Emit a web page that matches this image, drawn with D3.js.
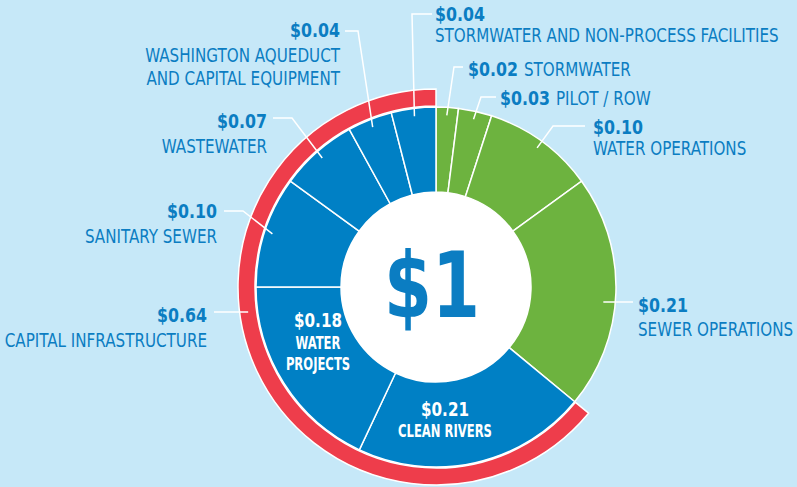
<!DOCTYPE html>
<html>
<head>
<meta charset="utf-8">
<script src="https://cdn.jsdelivr.net/npm/d3@7/dist/d3.min.js"></script>
<style>
  html, body { margin: 0; padding: 0; background: #c6e8f8; }
  svg { display: block; }
  text { font-family: "DejaVu Sans Condensed", "DejaVu Sans", sans-serif; }
</style>
</head>
<body>
<div id="chart"></div>
<script>
var width = 797, height = 487;

// clockwise from 12 o'clock
var names = ["STORMWATER", "PILOT / ROW", "WATER OPERATIONS", "SEWER OPERATIONS",
    "CLEAN RIVERS", "WATER PROJECTS", "SANITARY SEWER", "WASTEWATER",
    "WASHINGTON AQUEDUCT AND CAPITAL EQUIPMENT", "STORMWATER AND NON-PROCESS FACILITIES"];
var values = [0.02, 0.03, 0.10, 0.21, 0.21, 0.18, 0.10, 0.07, 0.04, 0.04];
var groups = ["op", "op", "op", "op", "cap", "cap", "cap", "cap", "cap", "cap"];
var capitalLabel = ["$0.64", "CAPITAL INFRASTRUCTURE"];
var totalLabel = "$1";

var colors = { op: "#6db33f", cap: "#0080c5" };
var red = "#ee3d4b", textBlue = "#0b7dc2";

var cx = 436, cy = 287;
var rIn = 95, rOut = 180, redIn = 181, redOut = 198;

// text styles; the original face is a condensed one, so text is squeezed
// horizontally to the width a reference string has in the picture
var styles = {
    name:     { size: 19, weight: "normal", ref: "STORMWATER AND NON-PROCESS FACILITIES", w: 344 },
    value:    { size: 19, weight: "bold",   ref: "$0.64", w: 50 },
    inside:   { size: 18, weight: "bold",   ref: "CLEAN RIVERS", w: 94 },
    insideV:  { size: 20, weight: "bold",   ref: "$0.18", w: 48 },
    big:      { size: 90, weight: "bold",   ref: "$1", w: 96 }
};

// label layout, one per slice
var layout = [
    { anchor: "start", x: 468, y: 76, inline: true, from: [463, 67], elbow: 454 },
    { anchor: "start", x: 500, y: 105, inline: true, from: [496, 97], elbow: 481 },
    { anchor: "start", x: 593, y: 134, lines: [155], from: [585, 126], elbow: 553 },
    { anchor: "start", x: 638, y: 312, lines: [336], from: [633, 302], flat: 168 },
    { inside: true, x: 445, y: 416, lines: [437] },
    { inside: true, x: 318, y: 327, lines: [349, 370], split: ["WATER", "PROJECTS"] },
    { anchor: "end", x: 217, y: 218, lines: [243], from: [224, 211], elbow: 243 },
    { anchor: "end", x: 267, y: 128, lines: [153], from: [273, 118], elbow: 292 },
    { anchor: "end", x: 340, y: 37, lines: [62, 85], from: [345, 31], elbow: 358,
      split: ["WASHINGTON AQUEDUCT", "AND CAPITAL EQUIPMENT"] },
    { anchor: "start", x: 435, y: 21, lines: [42], from: [432, 14], elbow: 412 }
];

var svg = d3.select("#chart").append("svg")
    .attr("width", width)
    .attr("height", height);

svg.append("rect").attr("width", width).attr("height", height).attr("fill", "#c6e8f8");

// work out squeeze factor for each style
Object.keys(styles).forEach(function(k) {
    var s = styles[k];
    var t = svg.append("text").attr("font-size", s.size).attr("font-weight", s.weight).text(s.ref);
    s.k = Math.min(1, s.w / t.node().getComputedTextLength());
    t.remove();
});

function addText(parent, style, x, y, anchor, fill, str) {
    var s = styles[style];
    var t = parent.append("text")
        .attr("x", 0).attr("y", 0)
        .attr("transform", "translate(" + x + "," + y + ") scale(" + s.k + ",1)")
        .attr("text-anchor", anchor)
        .attr("fill", fill)
        .attr("font-size", s.size)
        .attr("font-weight", s.weight)
        .text(str);
    return t;
}

var pie = d3.pie().sort(null).value(function(d) { return d; });
var slices = pie(values);

var arc = d3.arc().innerRadius(rIn).outerRadius(rOut);
var g = svg.append("g").attr("transform", "translate(" + cx + "," + cy + ")");

// red capital ring
var capSlices = slices.filter(function(d, i) { return groups[i] == "cap"; });
var redArc = d3.arc().innerRadius(redIn).outerRadius(redOut)
    .startAngle(d3.min(capSlices, function(d) { return d.startAngle; }))
    .endAngle(d3.max(capSlices, function(d) { return d.endAngle; }));
g.append("path").attr("d", redArc()).attr("fill", red)
    .attr("stroke", "#fff").attr("stroke-width", 1.5);

g.selectAll(".slice")
    .data(slices)
    .enter().append("path")
    .attr("class", "slice")
    .attr("d", arc)
    .attr("fill", function(d, i) { return colors[groups[i]]; })
    .attr("stroke", "#fff")
    .attr("stroke-width", 1.5);

g.append("circle").attr("r", rIn).attr("fill", "#fff");

addText(g, "big", -4, 30, "middle", textBlue, totalLabel);

function money(v) { return "$" + v.toFixed(2); }

function polar(a, r) { return [cx + r * Math.sin(a), cy - r * Math.cos(a)]; }

// leaders
var leader = svg.append("g").attr("fill", "none").attr("stroke", "#fff").attr("stroke-width", 1.5);
slices.forEach(function(d, i) {
    var L = layout[i];
    if (L.inside) return;
    var pts;
    if (L.flat) {
        var dy = L.from[1] - cy;
        pts = [L.from, [cx + Math.sqrt(L.flat * L.flat - dy * dy), L.from[1]]];
    } else {
        var end = polar((d.startAngle + d.endAngle) / 2, 172);
        pts = [L.from, [L.elbow, L.from[1]], end];
    }
    leader.append("path").attr("d", d3.line()(pts));
});
// capital leader to red ring
var capY = 312, capDy = capY - cy, rMid = (redIn + redOut) / 2;
leader.append("path").attr("d", d3.line()([[214, capY], [cx - Math.sqrt(rMid * rMid - capDy * capDy), capY]]));

// labels
var labels = svg.append("g");
slices.forEach(function(d, i) {
    var L = layout[i];
    var lines = L.split || [names[i]];
    if (L.inside) {
        addText(labels, "insideV", L.x, L.y, "middle", "#fff", money(values[i]));
        lines.forEach(function(s, k) {
            addText(labels, "inside", L.x, L.lines[k], "middle", "#fff", s);
        });
        return;
    }
    var v = addText(labels, "value", L.x, L.y, L.anchor, textBlue, money(values[i]));
    if (L.inline) {
        var vw = v.node().getComputedTextLength() * styles.value.k;
        addText(labels, "name", L.x + vw + 6, L.y, "start", textBlue, names[i]);
        return;
    }
    lines.forEach(function(s, k) {
        addText(labels, "name", L.x, L.lines[k], L.anchor, textBlue, s);
    });
});

addText(labels, "value", 207, 322, "end", textBlue, capitalLabel[0]);
addText(labels, "name", 207, 347, "end", textBlue, capitalLabel[1]);
</script>
</body>
</html>
